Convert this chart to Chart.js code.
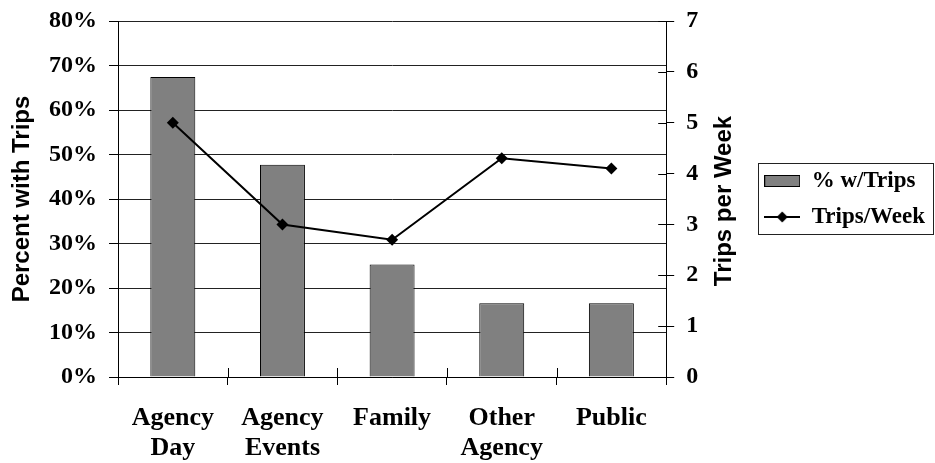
<!DOCTYPE html>
<html>
<head>
<meta charset="utf-8">
<script src="https://cdn.jsdelivr.net/npm/chart.js@4.4.1/dist/chart.umd.min.js"></script>
<style>
  html, body { margin: 0; padding: 0; background: #fff; }
  #wrap { width: 935px; height: 463px; }
</style>
</head>
<body>
<div id="wrap"><canvas id="c" width="935" height="463"></canvas></div>
<script>
// Trip destinations: share of people with trips (bars) and trips per week (line)
const categories = [['Agency', 'Day'], ['Agency', 'Events'], 'Family', ['Other', 'Agency'], 'Public'];
const pctWithTrips = [67.4, 47.7, 25.3, 16.6, 16.6];
const tripsPerWeek = [5.0, 3.0, 2.7, 4.3, 4.1];
const seriesNames = ['% w/Trips', 'Trips/Week'];
const axisTitles = ['Percent with Trips', 'Trips per Week'];

const SERIF = '"Liberation Serif", "Times New Roman", serif';
const SANS = '"Liberation Sans", Arial, sans-serif';

// Small legend swatches: a framed grey block and a line with a diamond marker
function swatch(draw) {
  const c = document.createElement('canvas');
  c.width = 36; c.height = 14;
  draw(c.getContext('2d'));
  return c;
}
const barSwatch = swatch(g => {
  g.fillStyle = '#808080';
  g.fillRect(0.5, 1.5, 35, 11);
  g.strokeStyle = '#000'; g.lineWidth = 1;
  g.strokeRect(0.5, 1.5, 35, 11);
});
const lineSwatch = swatch(g => {
  g.strokeStyle = '#000'; g.lineWidth = 2;
  g.beginPath(); g.moveTo(0, 7); g.lineTo(36, 7); g.stroke();
  g.fillStyle = '#000';
  g.beginPath(); g.moveTo(18, 1.5); g.lineTo(23.5, 7); g.lineTo(18, 12.5); g.lineTo(12.5, 7); g.closePath(); g.fill();
});

// Inner tick marks, right-hand axis title and legend frame
const axisExtras = {
  id: 'axisExtras',
  afterDraw(chart) {
    const { ctx, chartArea: a, scales: { x, y1 } } = chart;
    ctx.save();
    ctx.strokeStyle = '#000';
    ctx.lineWidth = 1;
    ctx.beginPath();
    for (let i = 1; i < categories.length; i++) {
      const px = Math.round(x.getPixelForValue(i - 0.5)) + 0.5;
      ctx.moveTo(px, a.bottom);
      ctx.lineTo(px, a.bottom - 9);
    }
    y1.ticks.forEach(t => {
      const py = Math.round(y1.getPixelForValue(t.value)) + 0.5;
      ctx.moveTo(a.right, py);
      ctx.lineTo(a.right - 8, py);
    });
    ctx.stroke();

    ctx.font = 'bold 24px ' + SANS;
    ctx.fillStyle = '#000';
    ctx.textAlign = 'center';
    ctx.textBaseline = 'middle';
    ctx.translate(y1.left + 58, (a.top + a.bottom) / 2 + 2);
    ctx.rotate(-Math.PI / 2);
    ctx.fillText(axisTitles[1], 0, 0);
    ctx.restore();

    const hb = chart.legend.legendHitBoxes;
    if (hb && hb.length) {
      const l = Math.min(...hb.map(b => b.left)) - 6;
      const t = Math.min(...hb.map(b => b.top)) - 7;
      const r = Math.max(...hb.map(b => b.left + b.width)) + 8;
      const btm = Math.max(...hb.map(b => b.top + b.height)) + 5;
      ctx.save();
      ctx.strokeStyle = '#222';
      ctx.lineWidth = 1;
      ctx.strokeRect(Math.round(l) + 0.5, Math.round(t) + 0.5, Math.round(r - l), Math.round(btm - t));
      ctx.restore();
    }
  }
};

new Chart(document.getElementById('c'), {
  type: 'bar',
  data: {
    labels: categories,
    datasets: [
      {
        type: 'line',
        label: seriesNames[1],
        data: tripsPerWeek,
        yAxisID: 'y1',
        order: 0,
        borderColor: '#000',
        backgroundColor: '#000',
        borderWidth: 2,
        pointStyle: 'rectRot',
        pointRadius: 6,
        pointBackgroundColor: '#000',
        pointBorderColor: '#000',
        pointBorderWidth: 0,
        tension: 0
      },
      {
        type: 'bar',
        label: seriesNames[0],
        data: pctWithTrips,
        yAxisID: 'y',
        order: 1,
        backgroundColor: '#808080',
        borderColor: '#000',
        borderWidth: 1,
        categoryPercentage: 1,
        barPercentage: 0.41
      }
    ]
  },
  options: {
    responsive: false,
    animation: false,
    events: [],
    layout: { padding: { top: 21, left: 0, right: 0, bottom: 0 } },
    plugins: {
      tooltip: { enabled: false },
      legend: {
        position: 'right',
        align: 'center',
        fullSize: false,
        maxWidth: 220,
        labels: {
          usePointStyle: true,
          pointStyleWidth: 36,
          boxHeight: 12,
          padding: 13,
          color: '#000',
          font: { family: SERIF, size: 23, weight: 'bold' },
          generateLabels: () => [
            { text: seriesNames[0], pointStyle: barSwatch, fillStyle: '#808080', strokeStyle: '#000', lineWidth: 1, hidden: false, datasetIndex: 1, fontColor: '#000' },
            { text: seriesNames[1], pointStyle: lineSwatch, fillStyle: '#000', strokeStyle: '#000', lineWidth: 2, hidden: false, datasetIndex: 0, fontColor: '#000' }
          ]
        }
      }
    },
    scales: {
      x: {
        offset: true,
        grid: {
          offset: true,
          drawOnChartArea: false,
          drawTicks: true,
          tickLength: 8,
          tickColor: '#000',
          color: '#000'
        },
        border: { color: '#000', width: 1 },
        ticks: {
          color: '#000',
          padding: 18,
          maxRotation: 0,
          autoSkip: false,
          font: { family: SERIF, size: 26, weight: 'bold', lineHeight: 1.15 }
        },
        afterFit: s => { s.height = 86; s.paddingLeft = 0; s.paddingRight = 0; }
      },
      y: {
        position: 'left',
        min: 0,
        max: 80,
        ticks: {
          stepSize: 10,
          color: '#000',
          padding: 12,
          font: { family: SERIF, size: 24, weight: 'bold' },
          callback: v => v + '%'
        },
        grid: {
          color: '#222',
          lineWidth: 1,
          drawTicks: true,
          tickLength: 9,
          tickColor: '#000'
        },
        border: { color: '#000', width: 1 },
        title: {
          display: true,
          text: axisTitles[0],
          color: '#000',
          font: { family: SANS, size: 24, weight: 'bold', lineHeight: 1.2 },
          padding: { top: 8, bottom: 0 }
        },
        afterFit: s => { s.width = 118; s.paddingTop = 0; s.paddingBottom = 0; }
      },
      y1: {
        position: 'right',
        min: 0,
        max: 7,
        ticks: {
          stepSize: 1,
          color: '#000',
          padding: 12,
          font: { family: SERIF, size: 24, weight: 'bold' }
        },
        grid: {
          drawOnChartArea: false,
          drawTicks: true,
          tickLength: 8,
          tickColor: '#000'
        },
        border: { color: '#000', width: 1 },
        afterFit: s => { s.width = 85; s.paddingTop = 0; s.paddingBottom = 0; }
      }
    }
  },
  plugins: [axisExtras]
});
</script>
</body>
</html>
